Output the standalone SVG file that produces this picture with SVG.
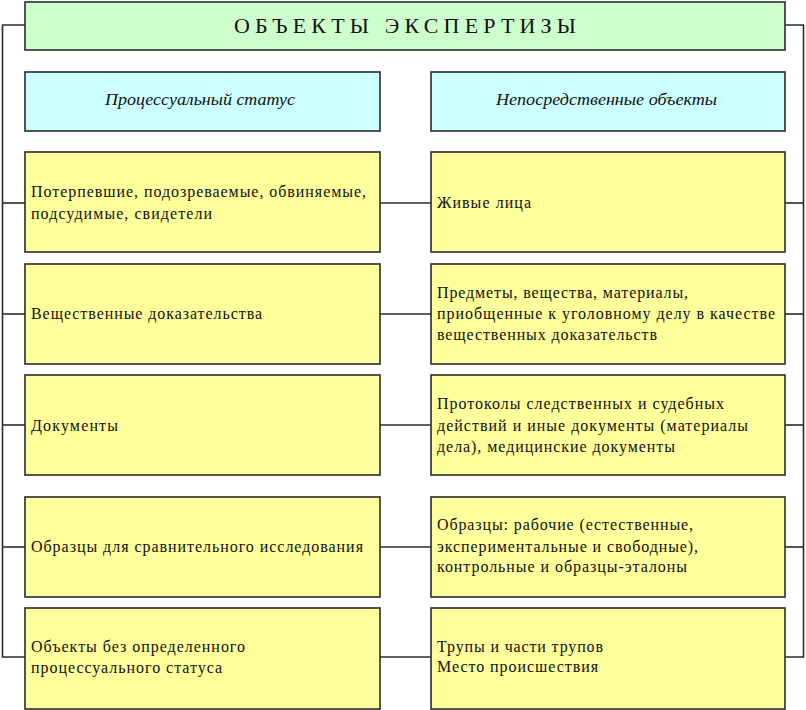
<svg xmlns="http://www.w3.org/2000/svg" width="806" height="710" viewBox="0 0 806 710">
<style>
.box{stroke:#2b2b2b;stroke-width:1.6}
.y{fill:#ffff9c}
.g{fill:#ccffcc}
.c{fill:#ccffff}
.t{font-family:"Liberation Serif","DejaVu Serif",serif;font-size:16px;fill:#111}
.h{font-family:"Liberation Serif","DejaVu Serif",serif;font-size:16px;font-style:italic;fill:#111}
.ti{font-family:"Liberation Serif","DejaVu Serif",serif;font-size:22px;fill:#111}
.ln{stroke:#2b2b2b;stroke-width:1.6;fill:none}
</style>
<rect width="806" height="710" fill="#ffffff"/>
<g id="connectors">
<path class="ln" d="M25 25 H2.5 V657 H25"/>
<path class="ln" d="M785 25 H803.5 V657 H785"/>
<line class="ln" x1="2.5" y1="203" x2="25" y2="203"/>
<line class="ln" x1="2.5" y1="314" x2="25" y2="314"/>
<line class="ln" x1="2.5" y1="425" x2="25" y2="425"/>
<line class="ln" x1="2.5" y1="547" x2="25" y2="547"/>
<line class="ln" x1="380" y1="203" x2="431" y2="203"/>
<line class="ln" x1="380" y1="314" x2="431" y2="314"/>
<line class="ln" x1="380" y1="425" x2="431" y2="425"/>
<line class="ln" x1="380" y1="547" x2="431" y2="547"/>
<line class="ln" x1="380" y1="657" x2="431" y2="657"/>
<line class="ln" x1="785" y1="203" x2="803.5" y2="203"/>
<line class="ln" x1="785" y1="314" x2="803.5" y2="314"/>
<line class="ln" x1="785" y1="425" x2="803.5" y2="425"/>
<line class="ln" x1="785" y1="547" x2="803.5" y2="547"/>
</g>
<g id="title">
<rect class="box g" x="25" y="2" width="760" height="48"/>
<text class="ti" x="234" y="33" textLength="342" lengthAdjust="spacing">ОБЪЕКТЫ ЭКСПЕРТИЗЫ</text>
</g>
<g id="head-left">
<rect class="box c" x="25" y="72" width="355" height="59"/>
<text class="h" x="105" y="105" textLength="190" lengthAdjust="spacingAndGlyphs">Процессуальный статус</text>
</g>
<g id="head-right">
<rect class="box c" x="431" y="72" width="354" height="59"/>
<text class="h" x="496" y="105" textLength="221" lengthAdjust="spacingAndGlyphs">Непосредственные объекты</text>
</g>
<g id="left-1">
<rect class="box y" x="25" y="152" width="355" height="100"/>
<text class="t" x="31" y="197" textLength="335" lengthAdjust="spacing">Потерпевшие, подозреваемые, обвиняемые,</text>
<text class="t" x="31" y="219" textLength="181" lengthAdjust="spacing">подсудимые, свидетели</text>
</g>
<g id="left-2">
<rect class="box y" x="25" y="264" width="355" height="100"/>
<text class="t" x="31" y="319" textLength="231" lengthAdjust="spacing">Вещественные доказательства</text>
</g>
<g id="left-3">
<rect class="box y" x="25" y="375" width="355" height="100"/>
<text class="t" x="31" y="431" textLength="87" lengthAdjust="spacing">Документы</text>
</g>
<g id="left-4">
<rect class="box y" x="25" y="497" width="355" height="100"/>
<text class="t" x="31" y="552" textLength="332" lengthAdjust="spacing">Образцы для сравнительного исследования</text>
</g>
<g id="left-5">
<rect class="box y" x="25" y="608" width="355" height="101"/>
<text class="t" x="31" y="652" textLength="214" lengthAdjust="spacing">Объекты без определенного</text>
<text class="t" x="31" y="673" textLength="191" lengthAdjust="spacing">процессуального статуса</text>
</g>
<g id="right-1">
<rect class="box y" x="431" y="152" width="354" height="100"/>
<text class="t" x="437" y="208" textLength="94" lengthAdjust="spacing">Живые лица</text>
</g>
<g id="right-2">
<rect class="box y" x="431" y="264" width="354" height="100"/>
<text class="t" x="437" y="298" textLength="251" lengthAdjust="spacing">Предметы, вещества, материалы,</text>
<text class="t" x="437" y="319" textLength="338" lengthAdjust="spacing">приобщенные к уголовному делу в качестве</text>
<text class="t" x="437" y="340" textLength="220" lengthAdjust="spacing">вещественных доказательств</text>
</g>
<g id="right-3">
<rect class="box y" x="431" y="375" width="354" height="100"/>
<text class="t" x="437" y="409" textLength="287" lengthAdjust="spacing">Протоколы следственных и судебных</text>
<text class="t" x="437" y="431" textLength="311" lengthAdjust="spacing">действий и иные документы (материалы</text>
<text class="t" x="437" y="452" textLength="238" lengthAdjust="spacing">дела), медицинские документы</text>
</g>
<g id="right-4">
<rect class="box y" x="431" y="497" width="354" height="100"/>
<text class="t" x="437" y="530" textLength="256" lengthAdjust="spacing">Образцы: рабочие (естественные,</text>
<text class="t" x="437" y="552" textLength="261" lengthAdjust="spacing">экспериментальные и свободные),</text>
<text class="t" x="437" y="572" textLength="250" lengthAdjust="spacing">контрольные и образцы-эталоны</text>
</g>
<g id="right-5">
<rect class="box y" x="431" y="608" width="354" height="101"/>
<text class="t" x="437" y="652" textLength="166" lengthAdjust="spacing">Трупы и части трупов</text>
<text class="t" x="437" y="672" textLength="161" lengthAdjust="spacing">Место происшествия</text>
</g>
</svg>
